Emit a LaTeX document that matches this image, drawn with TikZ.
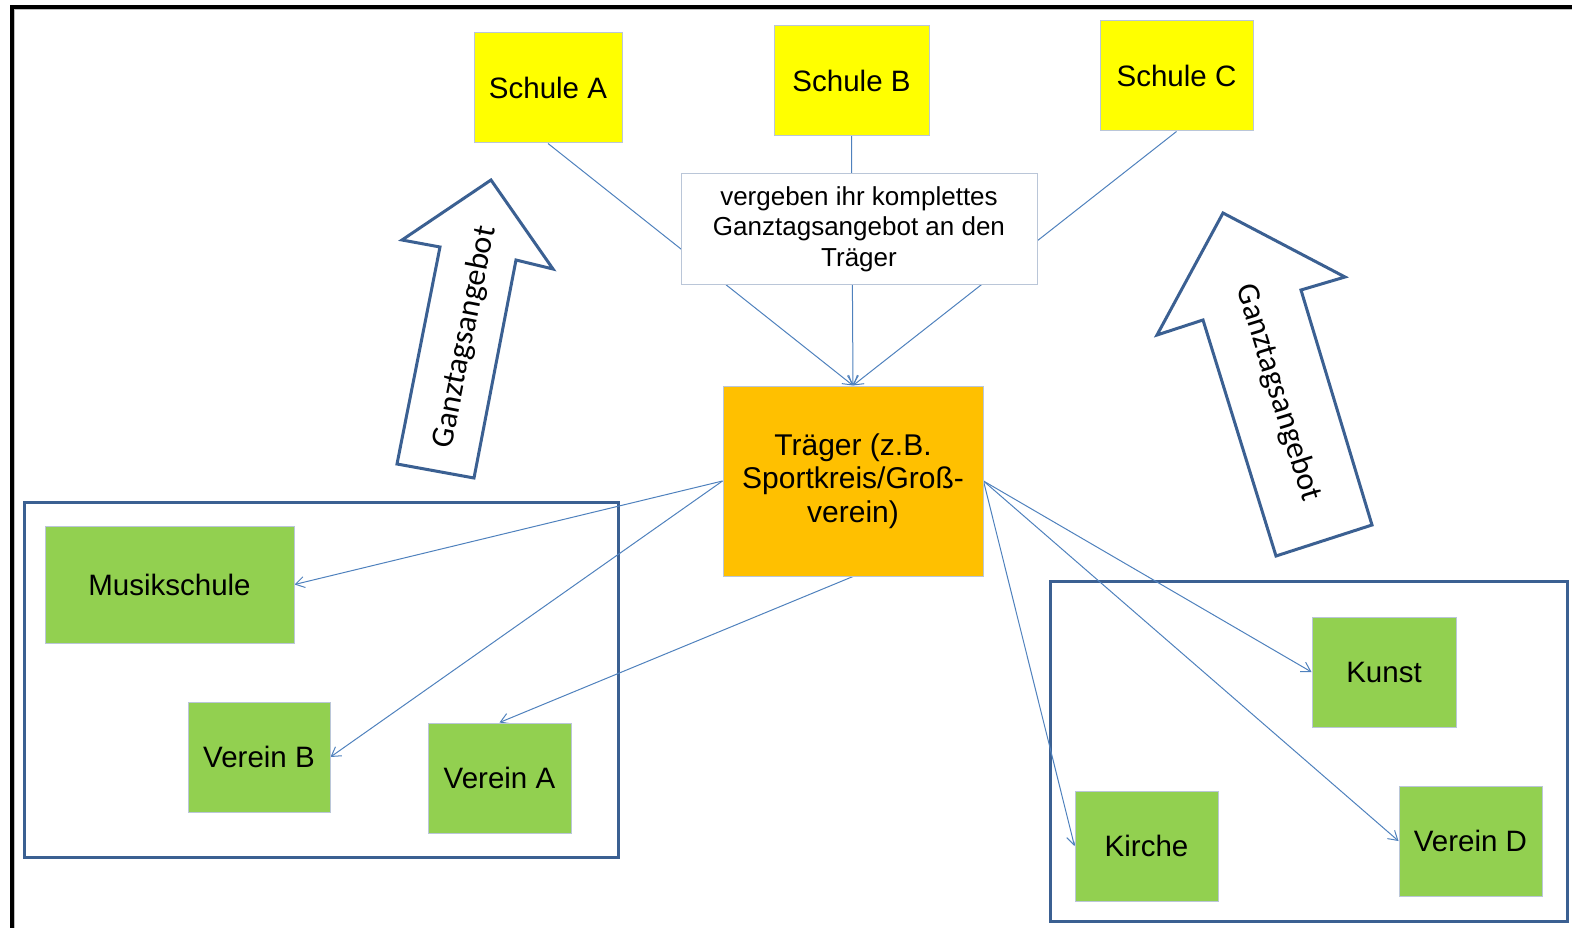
\documentclass[tikz,border=0pt]{standalone}
\usepackage{fontspec}
\setmainfont{Liberation Sans}
\newfontfamily\calfont{Carlito}
\usetikzlibrary{arrows.meta}

\definecolor{schoolyellow}{HTML}{FFFF00}
\definecolor{clubgreen}{HTML}{92D050}
\definecolor{carrierorange}{HTML}{FFC000}
\definecolor{nodeedge}{HTML}{BAC6D8}
\definecolor{linkblue}{HTML}{4F81BD}
\definecolor{groupblue}{HTML}{3B6092}

\pgfdeclarelayer{back}
\pgfdeclarelayer{mid}
\pgfsetlayers{back,mid,main}

\begin{document}
\begin{tikzpicture}[x=1pt,y=1pt,
  box/.style={draw=nodeedge, line width=1pt, inner sep=0pt, align=center,
    font=\fontsize{29.5}{33}\selectfont},
  school/.style={box, fill=schoolyellow, minimum height=110},
  club/.style={box, fill=clubgreen, minimum width=143, minimum height=110},
  note/.style={box, fill=white, font=\fontsize{26}{30.5}\selectfont},
  link/.style={draw=linkblue, line width=1pt},
  tolink/.style={link, -{Straight Barb[length=9pt,width=11pt]}},
  group/.style={draw=groupblue, line width=3pt, inner sep=0pt},
  bigarrow/.style={draw=groupblue, line width=3pt, fill=white, line join=miter},
  arrowtext/.style={font=\calfont\fontsize{32}{36}\selectfont}]

\useasboundingbox (0,0) rectangle (1572,-928);
\clip (0,0) rectangle (1572,-928);

% page frame, open to the right and bottom
\draw[gray!50, line width=1pt] (14.5,-940) -- (14.5,-9.5) -- (1590,-9.5);
\draw[black, line width=4pt] (12,-940) -- (12,-7) -- (1590,-7);

% schools
\node[school, minimum width=148] (schuleA) at (548,-88) {Schule A};
\node[school, minimum width=155] (schuleB) at (851.5,-80.5) {Schule B};
\node[school, minimum width=153] (schuleC) at (1176.5,-76) {Schule C};

% note box lying over the school connectors
\node[note, minimum width=356, minimum height=110] (note) at (859,-229)
  {vergeben ihr komplettes\\Ganztagsangebot an den\\Träger};

% carrier
\node[box, fill=carrierorange, minimum width=260, minimum height=190,
  font=\fontsize{30}{33.5}\selectfont] (traeger) at (853,-481)
  {Träger (z.B.\\Sportkreis/Groß-\\verein)};

% partners, left group
\node[club, minimum width=249, minimum height=117] (musik) at (169.5,-584.5) {Musikschule};
\node[club, minimum width=142] (vereinB) at (259,-757) {Verein B};
\node[club] (vereinA) at (499.5,-778) {Verein A};

% partners, right group
\node[club, minimum width=144] (kunst) at (1384,-672) {Kunst};
\node[club] (kirche) at (1146.5,-846) {Kirche};
\node[club] (vereinD) at (1470.5,-841) {Verein D};

\begin{pgfonlayer}{back}
  \node[group, minimum width=594, minimum height=355] (groupL) at (321,-679.5) {};
  \node[group, minimum width=517, minimum height=340] (groupR) at (1308.5,-751) {};
  % block arrows
  \draw[bigarrow] (491,-180) -- (553,-269) -- (516,-260) -- (474,-478)
    -- (397,-464) -- (440,-247) -- (402,-240) -- cycle;
  \draw[bigarrow] (1223,-213) -- (1345,-277) -- (1301,-290) -- (1372,-525)
    -- (1276,-556) -- (1203,-320) -- (1157,-335) -- cycle;
  \node[arrowtext, rotate=78.8] (labelL) at (465,-337) {Ganztagsangebot};
  \node[arrowtext, rotate=-72.8] (labelR) at (1278,-393) {Ganztagsangebot};
\end{pgfonlayer}

\begin{pgfonlayer}{mid}
  \draw[tolink] (schuleA.south) -- (traeger.north);
  \draw[tolink] (schuleB.south) -- (traeger.north);
  \draw[tolink] (schuleC.south) -- (traeger.north);
  \draw[tolink] (traeger.west) -- (musik.east);
  \draw[tolink] (traeger.west) -- (vereinB.east);
  \draw[tolink] (traeger.south) -- (vereinA.north);
  \draw[tolink] (traeger.east) -- (kirche.west);
  \draw[tolink] (traeger.east) -- (kunst.west);
  \draw[tolink] (traeger.east) -- (vereinD.west);
\end{pgfonlayer}

\end{tikzpicture}
\end{document}
